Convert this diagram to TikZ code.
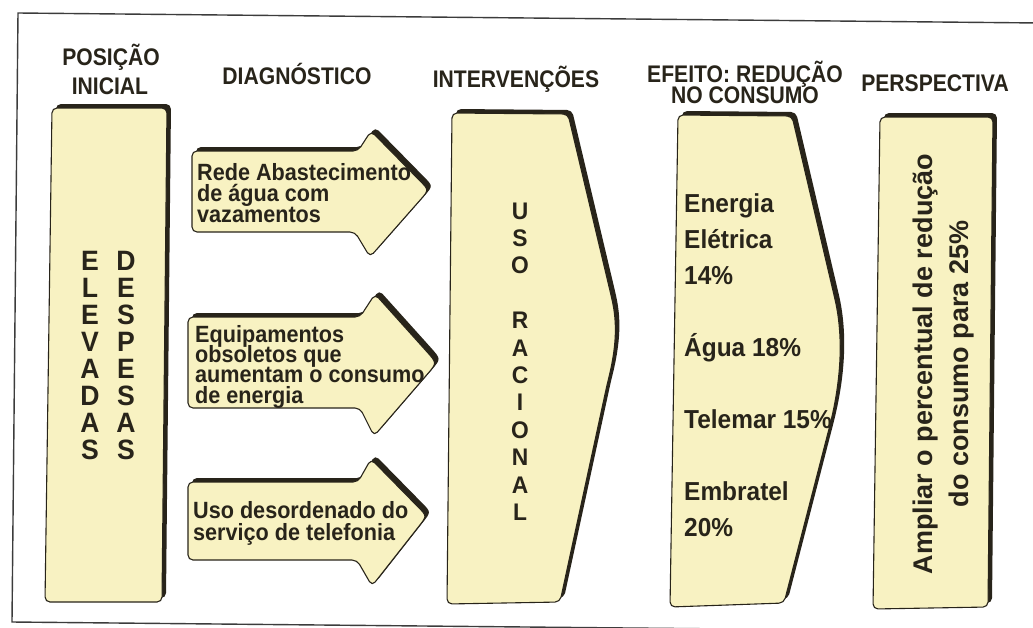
\documentclass[tikz,border=0pt]{standalone}
\usepackage{fontspec}
\setmainfont{Liberation Sans}
\newfontfamily\titlefont[FakeStretch=0.88]{Liberation Sans}
\newfontfamily\arrowfont[FakeStretch=0.92]{Liberation Sans}
\newfontfamily\effont[FakeStretch=0.94]{Liberation Sans}
\newfontfamily\letfont[FakeStretch=0.95]{Liberation Sans}
\definecolor{cream}{RGB}{248,242,194}
\definecolor{ink}{RGB}{40,36,26}
\definecolor{framegray}{RGB}{60,60,60}
\begin{document}
\begin{tikzpicture}[x=1pt,y=1pt,
  card/.style={fill=cream,draw=ink,line width=1.1pt,rounded corners=5pt,line join=round},
  shadowfill/.style={fill=ink,rounded corners=5pt},
  title/.style={font=\titlefont\bfseries\fontsize{24}{24}\selectfont,text=ink,inner sep=0pt,anchor=base},
  arrowtext/.style={font={\arrowfont\bfseries\fontsize{23.5}{#1}\selectfont\lineskiplimit=-50pt},text=ink,inner sep=0pt,anchor=north west,align=left},
  arrowtext/.default=21,
  eftext/.style={font=\effont\bfseries\fontsize{26}{26}\selectfont,text=ink,inner sep=0pt,anchor=base west},
  letter/.style={font=\letfont\bfseries\fontsize{28}{28}\selectfont,text=ink,inner sep=0pt,anchor=base},
  usoletter/.style={font=\letfont\bfseries\fontsize{24}{24}\selectfont,text=ink,inner sep=0pt,anchor=base},
  persp/.style={font=\bfseries\fontsize{27}{36}\selectfont,text=ink,inner sep=0pt,align=center,rotate=90},
  frameline/.style={draw=framegray,line width=1.4pt}]
\clip (0,0) rectangle (1033,-627);
\fill[white] (0,0) rectangle (1033,-627);
% frame
\draw[frameline] (1040,-23) -- (18,-13) -- (12,-622) -- (1040,-632);
% shapes
\def\boxA{(45,-602) -- (52,-108) -- (167,-108) -- (162,-602) -- cycle}
\def\arrA{(192,-232) -- (192,-151) -- (358,-151) -- (371,-131) -- (416.2,-177.0) .. controls (429,-190) .. (417.2,-203.4) -- (370,-257) -- (355,-232) -- cycle}
\def\arrB{(188,-408) -- (188,-317) -- (360,-317) -- (375,-294) -- (423.4,-347.8) .. controls (437,-363) .. (424.4,-377.6) -- (374,-436) -- (360,-408) -- cycle}
\def\arrC{(188,-560) -- (188,-482) -- (358,-482) -- (371,-459) -- (414.7,-503.5) .. controls (427,-516) .. (416,-530) -- (372,-586) -- (357,-560) -- cycle}
\def\boxC{(447,-604) -- (452,-113) -- (568,-114) -- (611,-295) .. controls (617,-322) and (617,-345) .. (607,-385) -- (560,-602) -- cycle}
\def\boxD{(670,-607) -- (678,-115) -- (792,-116) -- (834,-295) .. controls (842,-330) and (843,-370) .. (830,-425) -- (784,-603) -- cycle}
\def\boxE{(873,-609) -- (880,-117) -- (993,-117) -- (988,-607) -- cycle}
\foreach \p in {\boxA,\arrA,\arrB,\arrC,\boxC,\boxD,\boxE}{
  \fill[shadowfill,shift={(4,4)}] \p;
  \draw[card] \p;
}
% titles
\node[title] (tpos1) at (111,-65) {POSIÇÃO};
\node[title] (tpos2) at (110,-94) {INICIAL};
\node[title] (tdiag) at (297,-84) {DIAGNÓSTICO};
\node[title] (tint) at (516,-87) {INTERVENÇÕES};
\node[title] (tef1) at (745,-82) {EFEITO: REDUÇÃO};
\node[title] (tef2) at (745,-103) {NO CONSUMO};
\node[title] (tper) at (935,-91) {PERSPECTIVA};
% box 1
\foreach \c [count=\i] in {E,L,E,V,A,D,A,S}
  \node[letter] (el\i) at (90,{-270-27*(\i-1)}) {\c};
\foreach \c [count=\i] in {D,E,S,P,E,S,A,S}
  \node[letter] (de\i) at (126,{-270-27*(\i-1)}) {\c};
% arrows text
\node[arrowtext] (a1) at (197,-163) {Rede Abastecimento\\de água com\\vazamentos};
\node[arrowtext=20.3] (a2) at (195,-325) {Equipamentos\\obsoletos que\\aumentam o consumo\\de energia};
\node[arrowtext=22] (a3) at (193,-501) {Uso desordenado do\\serviço de telefonia};
% uso racional
\foreach \c/\k in {U/0,S/1,O/2,R/4,A/5,C/6,I/7,O/8,N/9,A/10,L/11}
  \node[usoletter] (uso\k) at (520,{-219-27.4*\k}) {\c};
% efeito
\foreach \yy/\txt [count=\i] in {212/Energia,248/Elétrica,284/14\%,356/Água 18\%,428/Telemar 15\%,500/Embratel,536/20\%}
  \node[eftext] (ef\i) at (684,-\yy) {\txt};
% perspectiva
\node[persp] (per) at (944,-364) {Ampliar o percentual de redução\\do consumo para 25\%};
\end{tikzpicture}
\end{document}
